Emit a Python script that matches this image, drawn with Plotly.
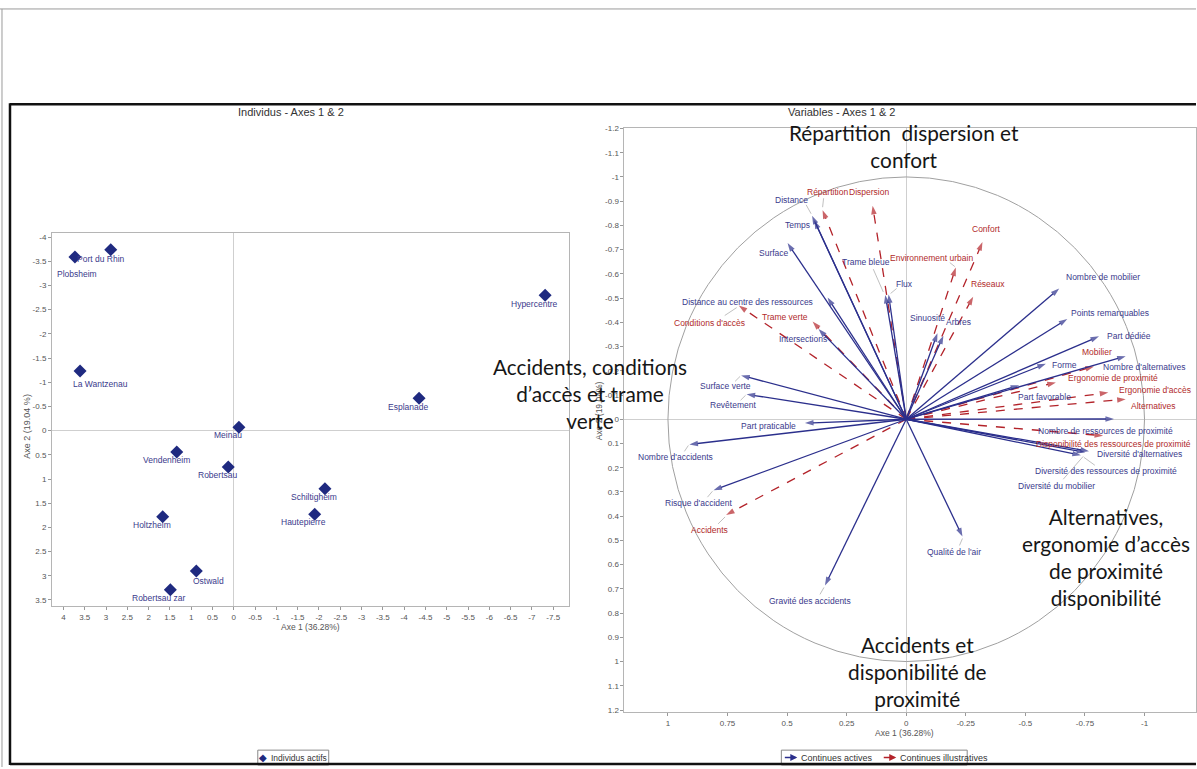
import plotly.graph_objects as go

# ---------------- DATA ----------------
# Individuals (left panel)
ind_names = ["Port du Rhin", "Plobsheim", "La Wantzenau", "Hypercentre", "Esplanade", "Meinau",
             "Vendenheim", "Robertsau", "Schiltigheim", "Hautepierre", "Holtzheim", "Ostwald",
             "Robertsau zar"]
ind_ax1 = [2.89, 3.73, 3.61, -7.31, -4.35, -0.12, 1.34, 0.13, -2.14, -1.90, 1.67, 0.88, 1.49]
ind_ax2 = [-3.74, -3.59, -1.23, -2.80, -0.67, -0.07, 0.44, 0.75, 1.20, 1.73, 1.78, 2.90, 3.29]

# Active variables (blue arrows)
act_names = ["Distance", "Temps", "Surface", "Distance au centre des ressources", "Intersections",
             "Trame bleue", "Flux", "Sinuosité", "Arbres", "Nombre de mobilier",
             "Points remarquables", "Part dédiée", "Nombre d'alternatives", "Forme",
             "Part favorable", "Nombre de ressources de proximité", "Diversité d'alternatives",
             "Diversité des ressources de proximité", "Diversité du mobilier", "Surface verte",
             "Revêtement", "Part praticable", "Nombre d'accidents", "Risque d'accident",
             "Gravité des accidents", "Qualité de l'air"]
act_ax1 = [0.395, 0.386, 0.498, 0.330, 0.368, 0.088, 0.074, -0.131, -0.156, -0.642,
           -0.676, -0.809, -0.921, -0.586, -0.474, -0.872, -0.767, -0.733, -0.751, 0.693,
           0.670, 0.425, 0.910, 0.809, 0.341, -0.236]
act_ax2 = [-0.840, -0.821, -0.727, -0.502, -0.372, -0.513, -0.515, -0.355, -0.345, -0.540,
           -0.414, -0.342, -0.260, -0.229, -0.140, -0.001, 0.132, 0.149, 0.137, -0.181,
           -0.103, 0.016, 0.104, 0.293, 0.686, 0.484]

# Supplementary variables (red dashed arrows)
ill_names = ["Répartition", "Dispersion", "Confort", "Environnement urbain", "Réseaux",
             "Trame verte", "Conditions d'accès", "Mobilier", "Ergonomie de proximité",
             "Ergonomie d'accès", "Alternatives", "Disponibilité des ressources de proximité",
             "Accidents"]
ill_ax1 = [0.351, 0.141, -0.320, -0.208, -0.281, 0.393, 0.703, -0.788, -0.628, -0.848,
           -0.921, -0.826, 0.756]
ill_ax2 = [-0.863, -0.881, -0.731, -0.626, -0.506, -0.403, -0.469, -0.218, -0.152, -0.110,
           -0.083, 0.068, 0.395]

# Tick labels
ind_xtick_vals = [4, 3.5, 3, 2.5, 2, 1.5, 1, 0.5, 0, -0.5, -1, -1.5, -2, -2.5, -3, -3.5, -4,
                  -4.5, -5, -5.5, -6, -6.5, -7, -7.5]
ind_ytick_vals = [-4, -3.5, -3, -2.5, -2, -1.5, -1, -0.5, 0, 0.5, 1, 1.5, 2, 2.5, 3, 3.5]
var_xtick_vals = [1, 0.75, 0.5, 0.25, 0, -0.25, -0.5, -0.75, -1]
var_ytick_vals = [-1.2, -1.1, -1, -0.9, -0.8, -0.7, -0.6, -0.5, -0.4, -0.3, -0.2, -0.1, 0,
                  0.1, 0.2, 0.3, 0.4, 0.5, 0.6, 0.7, 0.8, 0.9, 1, 1.1, 1.2]


def fmt(v):
    return "%g" % v


# ---------------- LABEL OFFSETS (pixels: dx right, dy down) ----------------
ind_off = [(-10, 9), (2, 17), (20, 13), (-11, 9), (-11, 9), (-11, 8), (-10, 8), (-11, 8),
           (-11, 8), (-11, 8), (-11, 8), (12, 10), (-11, 8)]
act_off = [(-21, -16), (-17, 5), (-14, 10), (-80, 4), (-16, 10), (-19, -33), (16, -10),
           (-10, -15), (15, -14), (44, -11), (43, -6), (30, 0), (18, 11), (19, 1), (25, 12),
           (-9, 12), (50, 3), (25, 16), (-29, 34), (-16, 11), (-14, 11), (-36, 3), (-14, 13),
           (-15, 13), (-15, 16), (-8, 15)]
ill_off = [(5, -18), (-4, -14), (4, -13), (-24, -10), (15, -13), (-28, -5), (-29, 17),
           (3, -14), (57, -4), (47, -3), (27, 7), (10, 8), (-17, 15)]
# short grey leader lines (label -> tip), given as (dx0, dy0, dx1, dy1) pixel offsets from tip
act_leaders = {"Trame bleue": (-12, -26, -2, -3), "Diversité du mobilier": (-22, 27, -2, 4),
               "Diversité des ressources de proximité": (14, 10, 3, 2),
               "Distance": (-6, -11, -1, -2), "Surface verte": (-6, 6, -1, 1),
               "Revêtement": (-6, 6, -1, 1), "Nombre d'accidents": (-5, 7, -1, 1),
               "Risque d'accident": (-6, 7, -1, 1), "Gravité des accidents": (-5, 9, -1, 2),
               "Qualité de l'air": (-3, 9, 0, 2), "Flux": (8, -6, 2, -1)}
ill_leaders = {"Répartition": (1, -12, 0, -3), "Conditions d'accès": (-14, 10, -2, 2),
               "Accidents": (-8, 9, -1, 2), "Environnement urbain": (-6, -5, -1, -1)}

W, H = 1197, 769
SX, SY = 238.5, 244.2   # approx pixels per unit on right panel (for leader offsets only)
def PX(x):
    return x / W
def PY(y):
    return 1 - y / H

BLUE = "#2B2F8C"
RED = "#B3232A"
NAVY = "#1F2A80"
LBL_BLUE = "#3A3A8C"
LBL_RED = "#B02A2A"
FONT = "Liberation Sans"

fig = go.Figure()

# ---- left panel: individuals ----
fig.add_trace(go.Scatter(x=ind_ax1, y=ind_ax2, mode="markers",
                         marker=dict(symbol="diamond", size=10, color=NAVY),
                         xaxis="x", yaxis="y", showlegend=False, hoverinfo="skip"))
for n, x, y, (dx, dy) in zip(ind_names, ind_ax1, ind_ax2, ind_off):
    fig.add_annotation(x=x, y=y, xref="x", yref="y", text=n, showarrow=False,
                       xshift=dx, yshift=-dy,
                       font=dict(size=8.5, color=LBL_BLUE, family=FONT))

# ---- right panel: correlation circle ----
fig.add_shape(type="circle", xref="x2", yref="y2", x0=-1, x1=1, y0=-1, y1=1,
              line=dict(color="#A0A0A0", width=1))

def add_vec(names, xs, ys, offs, leaders, color, lcolor, dash):
    for n, x, y, (dx, dy) in zip(names, xs, ys, offs):
        if n in leaders:
            a, b, c, d = leaders[n]
            fig.add_shape(type="line", xref="x2", yref="y2",
                          x0=x - a / SX, y0=y + b / SY, x1=x - c / SX, y1=y + d / SY,
                          line=dict(color="#B0B0B0", width=0.8))
        fig.add_trace(go.Scatter(
            x=[0, x], y=[0, y], mode="lines+markers",
            line=dict(color=color, width=1.3, dash=dash),
            marker=dict(symbol=["circle", "arrow"], size=[0, 9], angleref="previous",
                        color=color, line=dict(width=0)),
            xaxis="x2", yaxis="y2", showlegend=False, hoverinfo="skip"))
        fig.add_annotation(x=x, y=y, xref="x2", yref="y2", text=n, showarrow=False,
                           xshift=dx, yshift=-dy,
                           font=dict(size=8.5, color=lcolor, family=FONT))

add_vec(ill_names, ill_ax1, ill_ax2, ill_off, ill_leaders, RED, LBL_RED, "dash")
add_vec(act_names, act_ax1, act_ax2, act_off, act_leaders, BLUE, LBL_BLUE, "solid")

axis_common = dict(showgrid=False, ticks="outside", ticklen=3, tickcolor="#999",
                   tickfont=dict(size=8, color="#555", family=FONT),
                   showline=True, linecolor="#B5B5B5", linewidth=1, mirror=True,
                   zeroline=True, zerolinecolor="#CFCFCF", zerolinewidth=1)

fig.update_layout(
    width=W, height=H, margin=dict(l=0, r=0, t=0, b=0),
    paper_bgcolor="white", plot_bgcolor="white", showlegend=False,
    xaxis=dict(domain=[PX(52), PX(569)], range=[4.27, -7.86], anchor="y",
               tickvals=ind_xtick_vals, ticktext=[fmt(v) for v in ind_xtick_vals], **axis_common),
    yaxis=dict(domain=[PY(607), PY(231)], range=[3.63, -4.08], anchor="x",
               tickvals=ind_ytick_vals, ticktext=[fmt(v) for v in ind_ytick_vals], **axis_common),
    xaxis2=dict(domain=[PX(625), 1.0], range=[1.1824, -1.216], anchor="y2",
                tickvals=var_xtick_vals, ticktext=[fmt(v) for v in var_xtick_vals], **axis_common),
    yaxis2=dict(domain=[PY(714), PY(125)], range=[1.21, -1.2019], anchor="x2",
                tickvals=var_ytick_vals, ticktext=[fmt(v) for v in var_ytick_vals], **axis_common),
)

# ---- titles and axis titles ----
def ptext(x, y, t, size, color="#333", family=FONT, angle=0, xanchor="center"):
    fig.add_annotation(x=PX(x), y=PY(y), xref="paper", yref="paper", text=t, showarrow=False,
                       font=dict(size=size, color=color, family=family), textangle=angle,
                       xanchor=xanchor, yanchor="middle")

ptext(291, 109, "Individus - Axes 1 &amp; 2", 11)
ptext(842, 109, "Variables - Axes 1 &amp; 2", 11)
ptext(311, 628, "Axe 1 (36.28%)", 8.5, "#555")
ptext(27, 425, "Axe 2 (19.04 %)", 9, "#555", angle=-90)
ptext(905, 735, "Axe 1 (36.28%)", 8.5, "#555")
ptext(599, 410, "Axe 2 (19.04%)", 8.5, "#555", angle=-90)

# ---- big black commentary texts ----
BIG = dict(size=20.8, color="#161616", family="Lato")
def big(x, y, t):
    fig.add_annotation(x=PX(x), y=PY(y), xref="paper", yref="paper", text=t, showarrow=False,
                       font=BIG, align="center", xanchor="center", yanchor="middle")

big(905, 143, "Répartition  dispersion et<br>confort")
big(590, 393, "Accidents, conditions<br>d’accès et trame<br>verte")
big(1107, 557, "Alternatives,<br>ergonomie d’accès<br>de proximité<br>disponibilité")
big(918, 673, "Accidents et<br>disponibilité de<br>proximité")

# ---- legends ----
def rect(x0, y0, x1, y1, color="#888", width=1):
    fig.add_shape(type="rect", xref="paper", yref="paper", x0=PX(x0), x1=PX(x1),
                  y0=PY(y1), y1=PY(y0), line=dict(color=color, width=width))

rect(258, 752, 329, 767)
ptext(263, 759.5, "◆", 10, NAVY)
ptext(269, 759.5, "Individus actifs", 8.5, "#333", xanchor="left")

rect(782, 752, 968, 767)
fig.add_annotation(x=PX(798), y=PY(759.5), xref="paper", yref="paper", ax=-14, ay=0,
                   axref="pixel", ayref="pixel", showarrow=True, arrowhead=2, arrowsize=1,
                   arrowwidth=1.4, arrowcolor=BLUE, text="")
ptext(800, 759.5, "Continues actives", 9, "#333", xanchor="left")
fig.add_annotation(x=PX(897), y=PY(759.5), xref="paper", yref="paper", ax=-14, ay=0,
                   axref="pixel", ayref="pixel", showarrow=True, arrowhead=2, arrowsize=1,
                   arrowwidth=1.4, arrowcolor=RED, text="")
ptext(899, 759.5, "Continues illustratives", 9, "#333", xanchor="left")

# ---- page frame ----
def pline(x0, y0, x1, y1, color, width):
    fig.add_shape(type="line", xref="paper", yref="paper", x0=PX(x0), x1=PX(x1),
                  y0=PY(y0), y1=PY(y1), line=dict(color=color, width=width))

pline(0, 5, 1197, 5, "#9A9A9A", 1)
pline(2, 5, 2, 769, "#9A9A9A", 1)
pline(10, 101, 1197, 101, "#111", 2.5)
pline(10, 100, 10, 767, "#111", 2.5)
pline(10, 766, 1197, 766, "#111", 2.5)

fig.write_html("out.html", config={"displayModeBar": False},
               post_script="document.body.style.margin='0';document.body.style.padding='0';"
                           "document.documentElement.style.overflow='hidden';")
